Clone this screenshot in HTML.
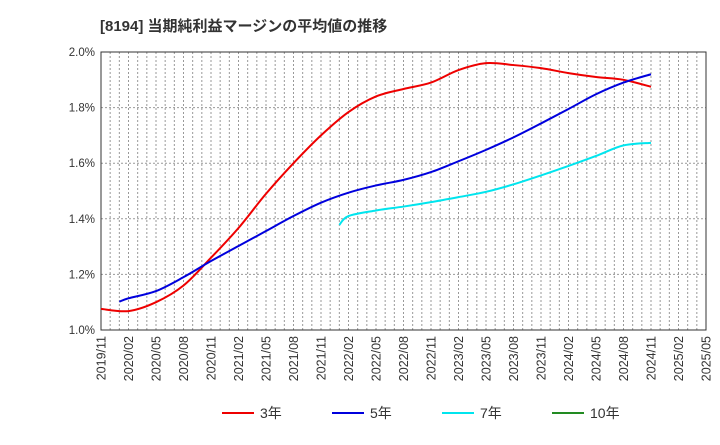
<!DOCTYPE html>
<html><head><meta charset="utf-8"><style>
body{margin:0;background:#fff;font-family:"Liberation Sans","Noto Sans CJK JP",sans-serif}
</style></head><body>
<svg id="c" width="720" height="440" xmlns="http://www.w3.org/2000/svg">
<text x="100" y="31" font-size="15" font-weight="bold" fill="#333" font-family="Liberation Sans, Noto Sans CJK JP, sans-serif">[8194]  当期純利益マージンの平均値の推移</text>
<g id="grid"></g><g id="axes"></g><g id="series"></g><g id="legend"></g>
</svg>
<script>
const xLabels=["2019/11","2020/02","2020/05","2020/08","2020/11","2021/02","2021/05","2021/08","2021/11","2022/02","2022/05","2022/08","2022/11","2023/02","2023/05","2023/08","2023/11","2024/02","2024/05","2024/08","2024/11","2025/02","2025/05"];
const yTicks=[1.0,1.2,1.4,1.6,1.8,2.0];
const s3Start="2019/11";
const s3=[1.076,1.068,1.10,1.16,1.26,1.367,1.49,1.60,1.70,1.784,1.84,1.867,1.89,1.935,1.96,1.953,1.942,1.924,1.91,1.90,1.875];
const s5Start="2020/01";
const s5=[1.102,1.114,1.14,1.19,1.248,1.302,1.356,1.41,1.458,1.494,1.52,1.54,1.568,1.607,1.648,1.693,1.743,1.795,1.848,1.89,1.92];
const s7Start="2022/01";
const s7=[1.378,1.41,1.43,1.444,1.46,1.478,1.497,1.524,1.556,1.59,1.626,1.664,1.673];
const s10=[];
const NS="http://www.w3.org/2000/svg";
const L=101,R=706,T=52,B=330;
const months=(xLabels.length-1)*3;
const xm=m=>L+m*(R-L)/months;
const mIdx=s=>{const [a,b]=s.split('/').map(Number);return (a-2019)*12+(b-11);};
const y=v=>B-(v-1.0)/(1.0)*(B-T);
function mk(t,a,p){const e=document.createElementNS(NS,t);for(const k in a)e.setAttribute(k,a[k]);p.appendChild(e);return e;}
const g=document.getElementById('grid'),ax=document.getElementById('axes'),sg=document.getElementById('series'),lg=document.getElementById('legend');
for(let m=1;m<months;m++){const x=xm(m);
const l=mk('line',{x1:x,x2:x,y1:T,y2:B,stroke:'#999','stroke-dasharray':'2,2','stroke-width':1},g);
}
yTicks.forEach(v=>{if(v>1.0&&v<2.0){const l=mk('line',{x1:L,x2:R,y1:y(v),y2:y(v),stroke:'#999','stroke-dasharray':'2,2'},g);
}
const t=mk('text',{x:L-6,y:y(v)+4,'text-anchor':'end','font-size':11.5,fill:'#333'},ax);t.textContent=v.toFixed(1)+'%';
});
const f=mk('rect',{x:L,y:T,width:R-L,height:B-T,fill:'none',stroke:'#333','stroke-width':1},ax);

xLabels.forEach((s,i)=>{const t=mk('text',{x:0,y:0,'text-anchor':'end','font-size':12.5,fill:'#333',transform:`translate(${xm(i*3)+4.5},${B+6}) rotate(-90)`},ax);t.textContent=s;
});
function path(arr,start){const p=[];const m0=mIdx(start);
arr.forEach((v,i)=>{if(v==null)return;const m=i===0?m0:Math.max(m0,(Math.ceil((m0-0.001)/3)+i-(m0%3===0?0:1))*3);});
// points: first at start month, rest on quarter boundaries after it
const firstQ=Math.ceil(m0/3)*3;let k=0;
arr.forEach((v,i)=>{let m;if(m0%3===0)m=m0+i*3;else m=i===0?m0:firstQ+(i-1)*3;p.push([xm(m),y(v)]);});
if(p.length<2)return '';
let d=`M${p[0][0]},${p[0][1]}`;for(let i=0;i<p.length-1;i++){const p0=p[i-1]||p[i],p1=p[i],p2=p[i+1],p3=p[i+2]||p2;
d+=` C${p1[0]+(p2[0]-p0[0])/6},${p1[1]+(p2[1]-p0[1])/6} ${p2[0]-(p3[0]-p1[0])/6},${p2[1]-(p3[1]-p1[1])/6} ${p2[0]},${p2[1]}`;}return d;}
[[s3,s3Start,'#e00','series-3yr'],[s5,s5Start,'#0000dd','series-5yr'],[s7,s7Start,'#00e5ee','series-7yr'],[s10,'2019/11','#228b22','series-10yr']].forEach(([a,st,c,n])=>{const d=path(a,st);if(!d)return;
const e=mk('path',{d:d,fill:'none',stroke:c,'stroke-width':2},sg);});
[['3年','#e00',222],['5年','#0000dd',332],['7年','#00e5ee',442],['10年','#228b22',552]].forEach(([t,c,x])=>{
const gg=mk('g',{},lg);
mk('line',{x1:x,x2:x+32,y1:413,y2:413,stroke:c,'stroke-width':2},gg);
const tx=mk('text',{x:x+38,y:418,'font-size':14,fill:'#333'},gg);tx.textContent=t;});
</script>
</body></html>
